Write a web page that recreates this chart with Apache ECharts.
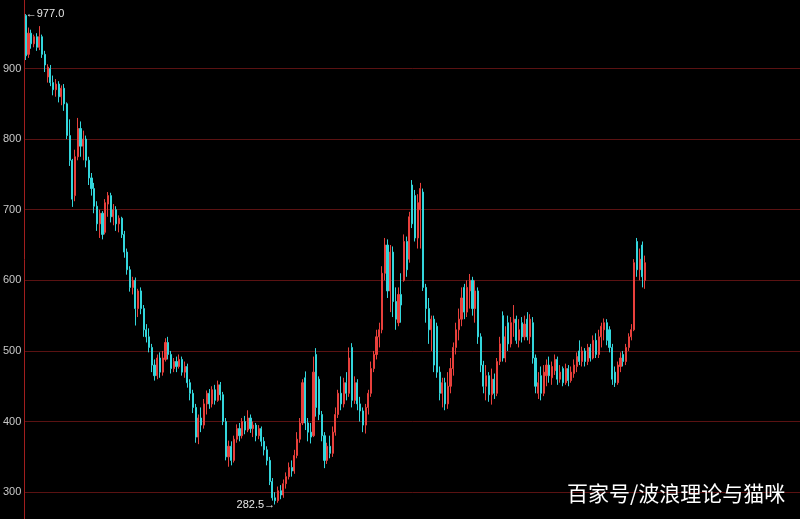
<!DOCTYPE html>
<html>
<head>
<meta charset="utf-8">
<script src="https://cdn.jsdelivr.net/npm/echarts@6/dist/echarts.min.js"></script>
<style>
html,body{margin:0;padding:0;background:#000;}
#chart{width:800px;height:519px;}
</style>
</head>
<body>
<div id="chart"></div>
<script>
// OHLC values (index order, oldest first)
const opens = [
975,920,950,935,945,930,945,920,888,900,880,870,878,860,872,850,805,770,720,775,
815,790,800,770,745,730,705,680,695,668,708,720,690,700,680,688,665,640,615,590,
600,560,585,560,530,520,505,480,465,490,470,488,512,495,475,485,478,488,470,478,
455,440,420,378,405,395,425,440,425,445,430,452,438,400,350,365,345,375,390,380,
400,388,405,390,395,380,390,372,360,345,315,292,288,302,296,312,322,335,330,352,
375,398,462,398,385,380,495,460,410,380,345,365,355,385,410,440,425,455,440,505,
430,455,425,415,395,420,440,475,495,520,530,610,650,585,640,570,540,580,600,655,
630,735,720,660,700,725,590,560,530,545,535,470,440,455,425,450,475,505,530,545,
590,555,585,600,560,585,520,480,450,465,438,460,440,485,550,490,540,510,540,545,
515,540,520,545,520,540,490,440,465,440,465,480,462,472,488,460,475,455,475,458,
468,478,500,485,500,485,505,490,515,495,520,530,540,530,505,470,455,478,495,485,
505,520,530,655,615,650,600
];
const closes = [
918,950,935,945,930,945,920,905,902,880,870,878,860,872,850,805,770,715,775,815,
790,800,770,745,730,705,680,695,665,710,720,690,700,680,688,665,640,615,590,600,
560,585,560,530,520,505,480,465,490,470,490,512,495,475,485,478,488,470,478,455,
440,420,378,405,395,425,440,425,445,430,452,438,400,350,365,345,375,390,380,400,
388,405,390,395,380,390,372,360,345,315,292,288,302,296,312,322,335,330,352,375,
398,455,398,385,378,470,420,410,380,345,365,355,385,410,440,425,455,440,490,430,
455,425,415,395,420,440,475,495,520,530,610,650,585,640,570,545,580,565,655,615,
690,680,660,710,730,590,560,530,545,480,470,440,455,425,450,475,505,530,545,575,
555,590,600,560,585,520,480,450,465,438,460,440,485,510,490,520,510,540,545,515,
530,520,538,520,545,490,450,455,440,470,480,465,478,488,460,470,455,475,458,470,
480,492,485,500,485,505,490,515,495,520,535,540,515,505,460,455,480,490,485,505,
520,530,625,615,630,605,625
];
const lows = [
912,915,928,930,925,926,915,895,880,875,862,860,852,848,840,800,762,704,712,770,
775,770,760,735,720,695,670,660,658,665,690,682,678,670,668,660,632,608,584,580,
536,548,552,520,512,498,470,458,460,462,465,485,488,468,470,470,475,465,462,448,
430,412,370,368,385,390,410,418,420,424,428,430,395,345,336,338,342,370,372,376,
382,385,384,378,372,375,365,352,338,310,288,282.5,285,290,292,305,318,322,326,348,
370,395,388,372,369,378,407,402,372,334,340,348,350,380,405,416,420,430,435,420,
425,416,400,385,383,410,435,470,488,505,525,600,575,555,548,530,535,540,598,605,
625,674,655,645,645,585,540,510,500,470,462,430,420,416,418,440,465,495,515,535,
545,548,560,550,540,510,470,440,430,428,424,432,436,480,485,484,500,505,520,510,
505,512,515,515,510,482,440,432,430,436,450,455,452,466,452,455,450,452,450,455,
462,470,480,478,478,480,485,488,490,490,505,515,508,498,452,449,452,470,478,480,
500,515,528,605,600,590,588
];
const highs = [
977,958,955,948,950,960,948,925,906,905,890,885,882,876,878,852,828,772,785,830,
825,812,805,775,752,738,712,700,698,715,725,724,708,705,692,690,670,645,620,605,
604,588,590,565,538,532,510,488,495,498,500,518,520,500,490,492,495,492,485,482,
460,445,425,410,420,432,444,446,450,452,458,456,442,405,373,372,380,396,398,405,
408,416,410,400,398,395,393,378,365,350,320,300,308,310,318,328,342,345,360,385,
405,460,471,405,398,492,504,464,415,385,370,380,393,420,445,464,462,470,505,511,
464,460,435,420,425,445,485,500,530,540,620,660,658,650,648,590,590,610,665,662,
697,742,728,722,738,730,595,575,550,550,540,478,462,462,470,490,512,540,560,590,
595,600,609,605,600,590,525,486,480,470,475,468,490,520,556,535,550,548,565,550,
545,548,550,555,552,548,495,470,478,480,488,492,485,495,492,480,478,482,480,478,
488,498,515,506,504,510,510,522,525,530,540,546,545,535,510,478,485,498,500,510,
525,538,630,660,645,655,635
];
// y-axis tick labels / grid lines
const yTicks = [300, 400, 500, 600, 700, 800, 900];
const categories = opens.map((_, i) => String(i + 1));
const watermark = '百家号/波浪理论与猫咪';

const kData = opens.map((o, i) => [o, closes[i], lows[i], highs[i]]);

const chart = echarts.init(document.getElementById('chart'), null, {renderer: 'canvas'});
chart.setOption({
  backgroundColor: '#000',
  animation: false,
  grid: {left: 23, right: 0, top: 0, bottom: 0, containLabel: false},
  xAxis: {
    type: 'category',
    data: categories,
    max: 282,
    boundaryGap: true,
    show: false
  },
  yAxis: {
    type: 'value',
    min: 262,
    max: 997,
    axisLine: {show: true, lineStyle: {color: '#a01e1e', width: 1}},
    axisTick: {show: false, customValues: yTicks},
    axisLabel: {
      color: '#c8c8c8', fontSize: 11, margin: 3,
      fontFamily: 'Liberation Sans, Arial, sans-serif',
      customValues: yTicks
    },
    splitLine: {show: true, lineStyle: {color: '#5a1212', width: 1}}
  },
  series: [{
    type: 'candlestick',
    data: kData,
    barWidth: 1.6,
    itemStyle: {
      color: '#e8403c', color0: '#33d6dc',
      borderColor: '#e8403c', borderColor0: '#33d6dc',
      borderWidth: 1
    },
    markPoint: {
      symbol: 'circle',
      symbolSize: 0,
      label: {
        color: '#e6e6e6', fontSize: 11,
        fontFamily: 'Liberation Sans, DejaVu Sans, sans-serif'
      },
      data: [
        {type: 'max', valueDim: 'highest',
         label: {position: 'right', distance: 0, formatter: p => '\u2190' + Number(p.value).toFixed(1)}},
        {type: 'min', valueDim: 'lowest',
         label: {position: 'left', distance: 0, formatter: p => Number(p.value).toFixed(1) + '\u2192'}}
      ]
    }
  }],
  graphic: [{
    type: 'text',
    left: 567,
    top: 483,
    z: 100,
    style: {
      text: watermark,
      fill: '#ffffff',
      fontSize: 21,
      fontFamily: '"Noto Sans CJK SC", sans-serif'
    }
  }]
});
</script>
</body>
</html>
